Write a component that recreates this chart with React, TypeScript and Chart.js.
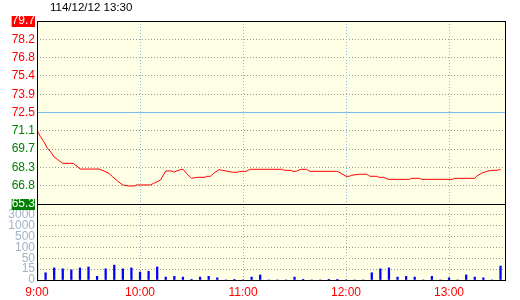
import React, { useEffect, useRef } from "react";
import { Chart, registerables, LinearScale } from "chart.js";

Chart.register(...registerables);

const TITLE = "114/12/12 13:30";
const REF_PRICE = 72.5;
const PRICE_MIN = 65.3;
const PRICE_MAX = 79.7;
const PRICE_TICK_LABELS = ["65.3", "66.8", "68.3", "69.7", "71.1", "72.5", "73.9", "75.4", "76.8", "78.2", "79.7"];
const VOLUME_TICKS = [0, 15, 50, 100, 500, 1000, 3000];
const VOLUME_TICK_LABELS = ["0", "15", "50", "100", "500", "1000", "3000"];
const HOUR_LABELS = ["9:00", "10:00", "11:00", "12:00", "13:00"];
const SESSION_START = "9:00";
const AXIS_END_MIN = 272.6;

const PRICE_TIMES = [
  "9:00", "9:02", "9:04", "9:06", "9:08", "9:10", "9:12", "9:13", "9:15", "9:21", "9:22",
  "9:24", "9:25", "9:36", "9:39", "9:42", "9:44", "9:47", "9:50", "9:53", "9:57", "9:58",
  "10:06", "10:08", "10:12", "10:15", "10:18", "10:20", "10:23", "10:25", "10:27", "10:30", "10:33",
  "10:38", "10:39", "10:41", "10:43", "10:46", "10:48", "10:51", "10:54", "10:57", "10:58",
  "11:02", "11:03", "11:04", "11:23", "11:24", "11:28", "11:29", "11:31", "11:32", "11:34",
  "11:37", "11:38", "11:39", "11:55", "11:57",
  "12:00", "12:02", "12:03", "12:08", "12:12", "12:13", "12:14", "12:18", "12:19", "12:22",
  "12:23", "12:25", "12:37", "12:38", "12:43", "12:44",
  "13:02", "13:03", "13:15", "13:16", "13:19", "13:22", "13:25", "13:28", "13:30",
];
const PRICES = [
  71.1, 70.6, 70.2, 69.7, 69.4, 69.0, 68.8, 68.7, 68.5, 68.5, 68.4,
  68.2, 68.05, 68.05, 67.9, 67.7, 67.45, 67.1, 66.8, 66.72, 66.72, 66.8,
  66.8, 66.93, 67.19, 67.9, 67.9, 67.82, 67.98, 68.03, 67.72, 67.32, 67.4,
  67.4, 67.48, 67.48, 67.72, 68.0, 67.95, 67.87, 67.8, 67.8, 67.87,
  67.87, 67.95, 68.03, 68.03, 67.95, 67.95, 67.87, 67.87, 67.95, 68.03,
  68.03, 67.95, 67.87, 67.87, 67.72,
  67.48, 67.48, 67.56, 67.64, 67.64, 67.56, 67.48, 67.48, 67.4, 67.4,
  67.32, 67.24, 67.24, 67.32, 67.32, 67.24,
  67.24, 67.32, 67.32, 67.48, 67.72, 67.87, 67.95, 67.95, 68.03,
];

const VOLUME_TIMES = [
  "9:00", "9:05", "9:10", "9:15", "9:20", "9:25", "9:30", "9:35", "9:40", "9:45", "9:50", "9:55",
  "10:00", "10:05", "10:10", "10:15", "10:20", "10:25", "10:30", "10:35", "10:40", "10:45", "10:50", "10:55",
  "11:00", "11:05", "11:10", "11:15", "11:20", "11:25", "11:30", "11:35", "11:40", "11:45", "11:50", "11:55",
  "12:00", "12:05", "12:10", "12:15", "12:20", "12:25", "12:30", "12:35", "12:40", "12:45", "12:50", "12:55",
  "13:00", "13:05", "13:10", "13:15", "13:20", "13:25", "13:30",
];
const VOLUMES = [
  35, 10, 19, 16, 14, 19, 22, 5, 16, 28, 16, 19,
  11, 12, 22, 4, 5, 4, 1, 4, 5, 3, 0, 1,
  0, 4, 7, 0, 0, 0, 4, 1, 0, 0, 1, 1,
  0, 0, 0, 10, 16, 19, 4, 5, 4, 0, 5, 0,
  3, 0, 7, 4, 3, 0, 25,
];

const FONT_FAMILY = "'Liberation Sans', Arial, sans-serif";
const RED = "#ff0000";
const GREEN = "#008000";

function toMinutes(t: string): number {
  const [h, m] = t.split(":").map(Number);
  const [h0, m0] = SESSION_START.split(":").map(Number);
  return (h * 60 + m) - (h0 * 60 + m0);
}

function crisp(p: number): number {
  return Math.round(p - 0.5) + 0.5;
}

class VolumeStepScale extends LinearScale {
  static id = "volumeStep";
  toIndex(v: number): number {
    const t = VOLUME_TICKS;
    if (v <= t[0]) return 0;
    for (let i = 1; i < t.length; i++) {
      if (v <= t[i]) return i - 1 + (v - t[i - 1]) / (t[i] - t[i - 1]);
    }
    const n = t.length;
    return n - 1 + (v - t[n - 1]) / (t[n - 1] - t[n - 2]);
  }
  getPixelForValue(value: number, index?: number): number {
    return super.getPixelForValue(this.toIndex(value), index);
  }
}
Chart.register(VolumeStepScale as any);

const panelPlugin = {
  id: "panelPlugin",
  beforeDraw(chart: any) {
    const { ctx, chartArea: a } = chart;
    ctx.save();
    ctx.fillStyle = "#ffffff";
    ctx.fillRect(0, 0, chart.width, chart.height);
    ctx.fillStyle = "#ffffe6";
    ctx.fillRect(a.left, a.top, a.right - a.left, a.bottom - a.top);
    ctx.fillStyle = "#000000";
    ctx.font = `11.5px ${FONT_FAMILY}`;
    ctx.textAlign = "left";
    ctx.textBaseline = "middle";
    ctx.fillText(TITLE, 50, 8);
    ctx.restore();
  },
  beforeDatasetsDraw(chart: any) {
    const { ctx } = chart;
    const xs = chart.scales.x;
    const yp = chart.scales.y;
    const yv = chart.scales.yv;
    ctx.save();
    ctx.lineWidth = 1;
    ctx.setLineDash([1, 2]);
    xs.ticks.forEach((t: any) => {
      if (t.value === 0) return;
      const px = crisp(xs.getPixelForValue(t.value));
      ctx.strokeStyle = "#8cbfe6";
      ctx.beginPath();
      ctx.moveTo(px, yp.top);
      ctx.lineTo(px, yp.bottom);
      ctx.stroke();
      ctx.strokeStyle = "#9fb0bc";
      ctx.beginPath();
      ctx.moveTo(px, yv.top);
      ctx.lineTo(px, yv.bottom);
      ctx.stroke();
    });
    ctx.setLineDash([]);
    const py = crisp(yp.getPixelForValue(REF_PRICE));
    ctx.strokeStyle = "#78bff0";
    ctx.beginPath();
    ctx.moveTo(xs.left, py);
    ctx.lineTo(xs.right, py);
    ctx.stroke();
    ctx.restore();
  },
  afterDatasetsDraw(chart: any) {
    const { ctx, chartArea: a } = chart;
    const yp = chart.scales.y;
    ctx.save();
    ctx.strokeStyle = "#000000";
    ctx.lineWidth = 1;
    ctx.strokeRect(a.left + 0.5, a.top + 0.5, a.right - a.left, a.bottom - a.top);
    const sy = crisp(yp.bottom);
    ctx.beginPath();
    ctx.moveTo(a.left, sy);
    ctx.lineTo(a.right + 1, sy);
    ctx.stroke();
    ctx.restore();
  },
};

export default function App() {
  const canvasRef = useRef<HTMLCanvasElement | null>(null);

  useEffect(() => {
    const canvas = canvasRef.current;
    if (!canvas) return;
    Chart.defaults.font.family = FONT_FAMILY;

    const priceData = PRICE_TIMES.map((t, i) => ({ x: toMinutes(t), y: PRICES[i] }));
    const volumeData = VOLUME_TIMES.map((t, i) => ({ x: toMinutes(t), y: VOLUMES[i] }));
    const n = PRICE_TICK_LABELS.length;

    const chart = new Chart(canvas, {
      type: "line",
      data: {
        datasets: [
          {
            type: "line",
            data: priceData,
            yAxisID: "y",
            borderColor: RED,
            borderWidth: 1,
            pointRadius: 0,
            tension: 0,
            fill: false,
          },
          {
            type: "bar",
            data: volumeData,
            yAxisID: "yv",
            backgroundColor: "#0000ff",
            barThickness: 1.6,
            borderWidth: 0,
          } as any,
        ],
      },
      options: {
        animation: false,
        responsive: false,
        devicePixelRatio: 1,
        events: [],
        layout: { padding: { left: 0, top: 21, right: 15, bottom: 0 } },
        plugins: { legend: { display: false }, tooltip: { enabled: false }, title: { display: false } },
        scales: {
          x: {
            type: "linear",
            min: 0,
            max: AXIS_END_MIN,
            offset: false,
            grid: { display: false, drawTicks: false },
            border: { display: false },
            afterBuildTicks: (s: any) => {
              s.ticks = HOUR_LABELS.map((h) => ({ value: toMinutes(h) }));
            },
            afterFit: (s: any) => {
              s.height = 20;
            },
            ticks: {
              autoSkip: false,
              maxRotation: 0,
              padding: 5,
              color: RED,
              font: { size: 12 },
              callback: (_v: any, i: number) => HOUR_LABELS[i],
            },
          },
          yv: {
            type: "volumeStep" as any,
            position: "left",
            stack: "panes",
            stackWeight: 76,
            min: 0,
            max: VOLUME_TICKS.length,
            grid: { color: "#9a9a9a", drawTicks: false, lineWidth: 1 },
            border: { display: false, dash: [1, 2] },
            afterBuildTicks: (s: any) => {
              s.ticks = VOLUME_TICKS.map((v) => ({ value: v }));
            },
            afterFit: (s: any) => {
              s.width = 37;
            },
            ticks: {
              autoSkip: false,
              padding: 2,
              color: "#a3b4c6",
              font: { size: 12, lineHeight: 1 },
              callback: (_v: any, i: number) => VOLUME_TICK_LABELS[i],
            },
          } as any,
          y: {
            type: "linear",
            position: "left",
            stack: "panes",
            stackWeight: 183,
            min: PRICE_MIN,
            max: PRICE_MAX,
            grid: { color: "#9a9a9a", drawTicks: false, lineWidth: 1 },
            border: { display: false, dash: [1, 2] },
            afterBuildTicks: (s: any) => {
              s.ticks = PRICE_TICK_LABELS.map((_l, i) => ({
                value: PRICE_MIN + (i * (PRICE_MAX - PRICE_MIN)) / (n - 1),
              }));
            },
            afterFit: (s: any) => {
              s.width = 37;
            },
            ticks: {
              autoSkip: false,
              padding: 2,
              font: { size: 12, lineHeight: 1 },
              callback: (_v: any, i: number) => PRICE_TICK_LABELS[i],
              color: (c: any) => {
                if (c.index === 0 || c.index === n - 1) return "#ffffff";
                return c.tick && c.tick.value >= REF_PRICE - 1e-6 ? RED : GREEN;
              },
              showLabelBackdrop: (c: any) => c.index === 0 || c.index === n - 1,
              backdropColor: (c: any) => (c.index === 0 ? GREEN : RED),
              backdropPadding: { top: -1, bottom: 0, left: 0, right: 0 },
            } as any,
          },
        },
      },
      plugins: [panelPlugin],
    });

    return () => {
      chart.destroy();
    };
  }, []);

  return (
    <div style={{ position: "fixed", left: 0, top: 0, width: 520, height: 300, background: "#ffffff" }}>
      <canvas ref={canvasRef} width={520} height={300} style={{ display: "block", width: 520, height: 300 }} />
    </div>
  );
}
